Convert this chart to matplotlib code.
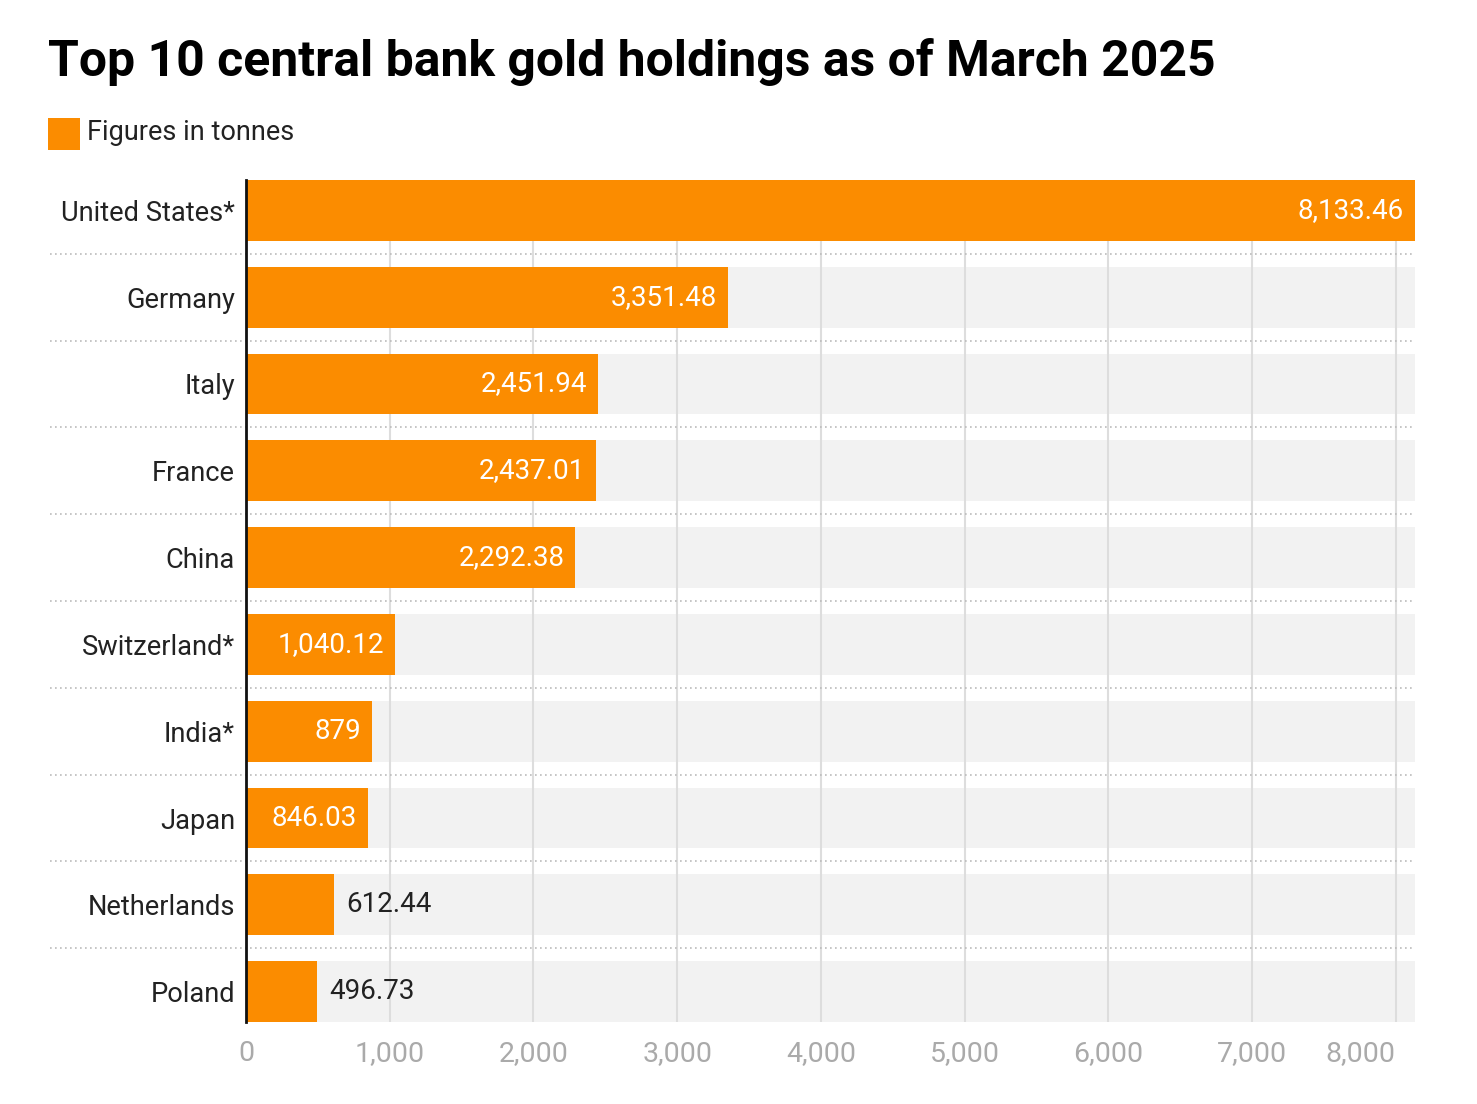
import matplotlib
matplotlib.use("Agg")
import matplotlib.pyplot as plt
from matplotlib.patches import Rectangle

countries = ["United States*", "Germany", "Italy", "France", "China",
             "Switzerland*", "India*", "Japan", "Netherlands", "Poland"]
values = [8133.46, 3351.48, 2451.94, 2437.01, 2292.38,
          1040.12, 879, 846.03, 612.44, 496.73]
value_labels = ["8,133.46", "3,351.48", "2,451.94", "2,437.01", "2,292.38",
                "1,040.12", "879", "846.03", "612.44", "496.73"]
xticks = [0, 1000, 2000, 3000, 4000, 5000, 6000, 7000, 8000]
xtick_labels = ["0", "1,000", "2,000", "3,000", "4,000", "5,000", "6,000", "7,000", "8,000"]
title = "Top 10 central bank gold holdings as of March 2025"
legend_label = "Figures in tonnes"

ORANGE = "#FB8C00"
BG = "#F2F2F2"
GRID = "#DDDDDD"
TEXT = "#222222"
TICK = "#AAAAAA"

plt.rcParams['font.family'] = ['Roboto', 'DejaVu Sans']

W, H = 1477, 1104
fig = plt.figure(figsize=(W / 100, H / 100), dpi=100)
left, right, top, bottom = 246, 1415, 180, 1022
ax = fig.add_axes([left / W, 1 - bottom / H, (right - left) / W, (bottom - top) / H])

n = len(countries)
ypos = list(range(n))
xmax = max(values)
bh = 0.70

ax.barh(ypos, [xmax] * n, height=bh, color=BG, zorder=0)
ax.barh(ypos, values, height=bh, color=ORANGE, zorder=2)

ax.set_xlim(0, xmax)
ax.set_ylim(n - 1 + bh / 2, -bh / 2)

ax.set_xticks(xticks)
ax.set_xticklabels(xtick_labels)
ax.xaxis.grid(True, color=GRID, linewidth=1.5, zorder=1)
ax.set_axisbelow(True)
ax.tick_params(axis='x', length=0, pad=13, labelsize=20.5, labelcolor=TICK)
for lbl in ax.get_xticklabels():
    if lbl.get_text() == xtick_labels[-1]:
        lbl.set_horizontalalignment('right')

ax.set_yticks(ypos)
ax.set_yticklabels(countries)
ax.tick_params(axis='y', length=0, pad=8, labelsize=19.6, labelcolor=TEXT)

for s in ["top", "right", "bottom"]:
    ax.spines[s].set_visible(False)
ax.spines["left"].set_color("#111111")
ax.spines["left"].set_linewidth(2)
ax.spines["left"].set_zorder(5)

# dotted separators between rows
x0_axes = (50 - left) / (right - left)
for i in range(n - 1):
    ax.plot([x0_axes, 1], [i + 0.5, i + 0.5], transform=ax.get_yaxis_transform(),
            color="#BBBBBB", linewidth=1.2, linestyle=(0, (1, 2)), clip_on=False, zorder=3)

# value labels
for y, v, t in zip(ypos, values, value_labels):
    if v > 700:
        ax.annotate(t, (v, y), xytext=(-11, 0), textcoords="offset pixels",
                    ha="right", va="center", color="white", fontsize=20, zorder=4)
    else:
        ax.annotate(t, (v, y), xytext=(12, 0), textcoords="offset pixels",
                    ha="left", va="center", color=TEXT, fontsize=20, zorder=4)

# title
fig.text(48 / W, 1 - 62 / H, title, ha="left", va="center",
         fontsize=35.9, fontweight="bold", color="#000000")

# legend
fig.patches.append(Rectangle((48 / W, 1 - 150 / H), 32 / W, 32 / H,
                             transform=fig.transFigure, facecolor=ORANGE, edgecolor="none"))
fig.text(87 / W, 1 - 132 / H, legend_label, ha="left", va="center",
         fontsize=19.5, color=TEXT)

fig.savefig("out.png", dpi=100, facecolor="white")
